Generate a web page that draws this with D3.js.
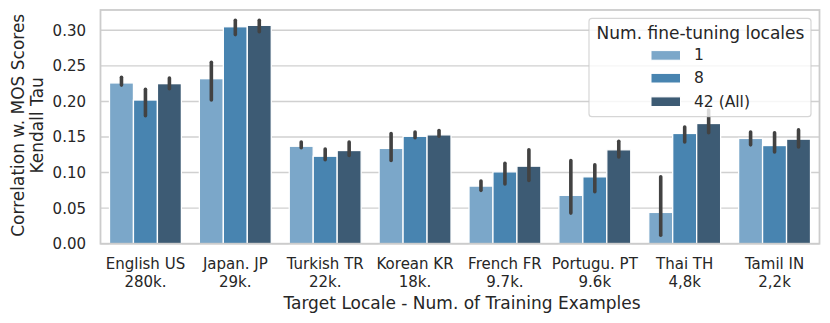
<!DOCTYPE html>
<html>
<head>
<meta charset="utf-8">
<script src="https://cdn.jsdelivr.net/npm/d3@7"></script>
<style>
  html, body { margin: 0; padding: 0; background: #fff; }
  svg { display: block; font-family: "DejaVu Sans", sans-serif; }
</style>
</head>
<body>
<svg id="chart" width="830" height="323"></svg>
<script>
// ---- data ----
const categories = ["English US", "Japan. JP", "Turkish TR", "Korean KR", "French FR", "Portugu. PT", "Thai TH", "Tamil IN"];
const sizes = ["280k.", "29k.", "22k.", "18k.", "9.7k.", "9.6k", "4,8k", "2,2k"];
const seriesNames = ["1", "8", "42 (All)"];
const values1  = [0.226, 0.232, 0.137, 0.134, 0.081, 0.068, 0.044, 0.148];
const values8  = [0.202, 0.305, 0.123, 0.151, 0.101, 0.094, 0.155, 0.138];
const values42 = [0.225, 0.307, 0.131, 0.153, 0.109, 0.132, 0.169, 0.147];
const errLow1  = [0.223, 0.202, 0.135, 0.117, 0.075, 0.043, 0.012, 0.139];
const errHigh1 = [0.234, 0.255, 0.143, 0.155, 0.088, 0.117, 0.094, 0.157];
const errLow8  = [0.180, 0.294, 0.118, 0.149, 0.084, 0.073, 0.143, 0.129];
const errHigh8 = [0.217, 0.314, 0.133, 0.157, 0.113, 0.111, 0.164, 0.156];
const errLow42 = [0.218, 0.298, 0.124, 0.151, 0.089, 0.122, 0.156, 0.136];
const errHigh42= [0.233, 0.314, 0.143, 0.159, 0.132, 0.144, 0.188, 0.160];
const yTicks = [0.00, 0.05, 0.10, 0.15, 0.20, 0.25, 0.30];
const colors = ["#7ba7c9", "#4884b0", "#3d5b74"];

const series = [
  {name: seriesNames[0], vals: values1,  lo: errLow1,  hi: errHigh1},
  {name: seriesNames[1], vals: values8,  lo: errLow8,  hi: errHigh8},
  {name: seriesNames[2], vals: values42, lo: errLow42, hi: errHigh42}
];

// ---- layout ----
const L = 100.5, R = 819.5, T = 10, B = 243.7;
const svg = d3.select("#chart");
const textColor = "#262626";

const x = d3.scaleBand().domain(categories).range([L, R]).paddingInner(0).paddingOuter(0);
const groupW = x.bandwidth() * 0.8;
const xs = d3.scaleBand().domain(seriesNames).range([0, groupW]);
const y = d3.scaleLinear().domain([0, 0.3]).range([B, B - 0.3 * 711.3]);

// grid
svg.append("g").selectAll("line").data(yTicks).join("line")
  .attr("x1", L).attr("x2", R)
  .attr("y1", d => y(d)).attr("y2", d => y(d))
  .attr("stroke", "#d0d0d0").attr("stroke-width", 1.4);

// bars
series.forEach((s, si) => {
  const g = svg.append("g");
  g.selectAll("rect").data(categories).join("rect")
    .attr("x", (c) => x(c) + (x.bandwidth() - groupW) / 2 + xs(s.name))
    .attr("width", xs.bandwidth())
    .attr("y", (c, i) => y(s.vals[i]))
    .attr("height", (c, i) => y(0) - y(s.vals[i]))
    .attr("fill", colors[si])
    .attr("stroke", "#fff").attr("stroke-width", 1.3);
});

// error bars
series.forEach((s, si) => {
  svg.append("g").selectAll("line").data(categories).join("line")
    .attr("x1", (c) => x(c) + (x.bandwidth() - groupW) / 2 + xs(s.name) + xs.bandwidth() / 2)
    .attr("x2", (c) => x(c) + (x.bandwidth() - groupW) / 2 + xs(s.name) + xs.bandwidth() / 2)
    .attr("y1", (c, i) => y(s.lo[i]))
    .attr("y2", (c, i) => y(s.hi[i]))
    .attr("stroke", "#424242").attr("stroke-width", 3.6).attr("stroke-linecap", "round");
});

// frame
svg.append("rect").attr("x", L).attr("y", T).attr("width", R - L).attr("height", B - T)
  .attr("fill", "none").attr("stroke", "#cccccc").attr("stroke-width", 1.8);

// y tick labels
svg.append("g").selectAll("text").data(yTicks).join("text")
  .attr("x", 86).attr("y", d => y(d)).attr("dy", "0.36em")
  .attr("text-anchor", "end").attr("font-size", 15).attr("fill", textColor)
  .text(d => d3.format(".2f")(d));

// x tick labels
const xt = svg.append("g").selectAll("text").data(categories).join("text")
  .attr("text-anchor", "middle").attr("font-size", 15).attr("fill", textColor);
xt.append("tspan").attr("x", c => x(c) + x.bandwidth() / 2).attr("y", 269.3).text(c => c);
xt.append("tspan").attr("x", c => x(c) + x.bandwidth() / 2).attr("y", 287.3).text((c, i) => sizes[i]);

// axis titles
svg.append("text").attr("x", 462).attr("y", 308.5)
  .attr("text-anchor", "middle").attr("font-size", 17).attr("fill", textColor)
  .text("Target Locale - Num. of Training Examples");

const yl = svg.append("text").attr("transform", "translate(0,125.3) rotate(-90)")
  .attr("text-anchor", "middle").attr("font-size", 17).attr("fill", textColor);
yl.append("tspan").attr("x", 0).attr("y", 23.5).text("Correlation w. MOS Scores");
yl.append("tspan").attr("x", 0).attr("y", 42.8).text("Kendall Tau");

// legend
const lg = svg.append("g");
lg.append("rect").attr("x", 589).attr("y", 18.3).attr("width", 222).attr("height", 98.4)
  .attr("rx", 3).attr("fill", "#fff").attr("fill-opacity", 0.8)
  .attr("stroke", "#cccccc").attr("stroke-opacity", 0.8).attr("stroke-width", 1.2);
lg.append("text").attr("x", 700.5).attr("y", 39).attr("text-anchor", "middle")
  .attr("font-size", 17).attr("fill", textColor).text("Num. fine-tuning locales");
const rowsY = [60.2, 83, 106.5];
seriesNames.forEach((n, i) => {
  lg.append("rect").attr("x", 651).attr("y", rowsY[i] - 9.6).attr("width", 29.5).attr("height", 9.6)
    .attr("fill", colors[i]).attr("stroke", "#fff").attr("stroke-width", 1);
  lg.append("text").attr("x", 694).attr("y", rowsY[i]).attr("font-size", 15.5)
    .attr("fill", textColor).text(n);
});
</script>
</body>
</html>
